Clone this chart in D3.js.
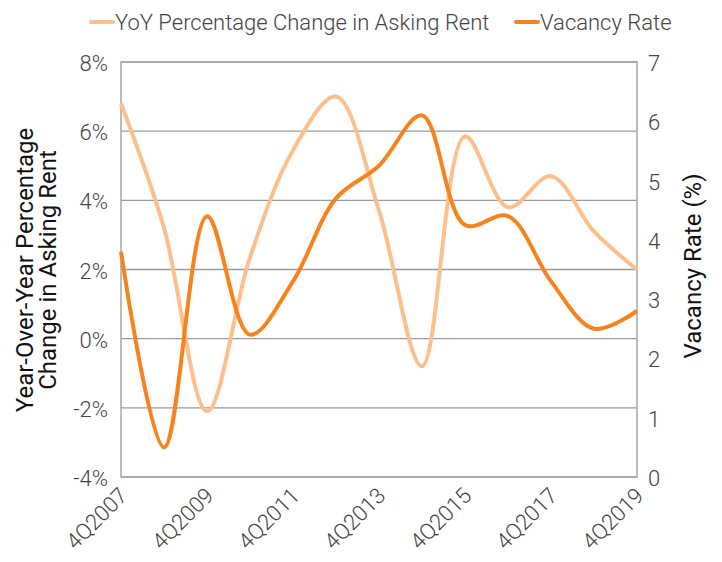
<!DOCTYPE html>
<html>
<head>
<meta charset="utf-8">
<script src="https://cdn.jsdelivr.net/npm/d3@7"></script>
<style>
  body { margin: 0; background: #fff; }
  svg text { font-family: Roboto, "Liberation Sans", sans-serif; }
</style>
</head>
<body>
<svg id="chart" width="722" height="562"></svg>
<script>
// quarters, one point a year
var quarters = ["4Q2007", "4Q2008", "4Q2009", "4Q2010", "4Q2011", "4Q2012", "4Q2013",
  "4Q2014", "4Q2015", "4Q2016", "4Q2017", "4Q2018", "4Q2019"];
var rentChange = [6.8, 3.2, -2.1, 2.35, 5.45, 7.0, 3.7, -0.8, 5.85, 3.8, 4.7, 3.1, 2.0];
var vacancyRate = [3.8, 0.5, 4.4, 2.4, 3.3, 4.7, 5.25, 6.1, 4.25, 4.4, 3.3, 2.5, 2.8];
var leftTicks = [-4, -2, 0, 2, 4, 6, 8];
var rightTicks = [0, 1, 2, 3, 4, 5, 6, 7];
var xLabels = ["4Q2007", "4Q2009", "4Q2011", "4Q2013", "4Q2015", "4Q2017", "4Q2019"];

var lightColor = "#fdbf8b";
var darkColor = "#f5841f";

var margin = { left: 121, right: 85, top: 62, bottom: 85 };
var width = 722 - margin.left - margin.right;
var height = 562 - margin.top - margin.bottom;

var svg = d3.select("#chart");
var g = svg.append("g")
  .attr("transform", "translate(" + margin.left + "," + margin.top + ")");

var x = d3.scalePoint().domain(quarters).range([0, width]);
var yLeft = d3.scaleLinear().domain([-4, 8]).range([height, 0]);
var yRight = d3.scaleLinear().domain([0, 7]).range([height, 0]);

// grid lines
g.selectAll(".grid")
  .data(leftTicks)
  .enter().append("line")
  .attr("class", "grid")
  .attr("x1", 0)
  .attr("x2", width)
  .attr("y1", function (d) { return yLeft(d) })
  .attr("y2", function (d) { return yLeft(d) })
  .attr("stroke", "#9a9a9a")
  .attr("stroke-width", 1.3)

g.append("rect")
  .attr("width", width)
  .attr("height", height)
  .attr("fill", "none")
  .attr("stroke", "#a6a6a6")
  .attr("stroke-width", 1.5)

// left ticks
g.selectAll(".ltick")
  .data(leftTicks)
  .enter().append("text")
  .attr("class", "ltick")
  .attr("x", -13)
  .attr("y", function (d) { return yLeft(d) + 9 })
  .attr("text-anchor", "end")
  .attr("font-size", 22)
  .attr("font-weight", 300)
  .attr("fill", "#444")
  .text(function (d) { return d + "%" })

// right ticks
g.selectAll(".rtick")
  .data(rightTicks)
  .enter().append("text")
  .attr("class", "rtick")
  .attr("x", width + 11)
  .attr("y", function (d) { return yRight(d) + 9 })
  .attr("text-anchor", "start")
  .attr("font-size", 22)
  .attr("font-weight", 300)
  .attr("fill", "#444")
  .text(function (d) { return d })

// x labels
g.selectAll(".xtick")
  .data(xLabels)
  .enter().append("text")
  .attr("class", "xtick")
  .attr("text-anchor", "end")
  .attr("font-size", 22)
  .attr("font-weight", 300)
  .attr("fill", "#444")
  .attr("transform", function (d) {
    return "translate(" + (x(d) + 8) + "," + (height + 20) + ") rotate(-45)"
  })
  .text(function (d) { return d })

// lines
var lineLeft = d3.line()
  .x(function (d, i) { return x(quarters[i]) })
  .y(function (d) { return yLeft(d) })
  .curve(d3.curveCatmullRom.alpha(0.5));

var lineRight = d3.line()
  .x(function (d, i) { return x(quarters[i]) })
  .y(function (d) { return yRight(d) })
  .curve(d3.curveCatmullRom.alpha(0.5));

g.append("path")
  .datum(rentChange)
  .attr("d", lineLeft)
  .attr("fill", "none")
  .attr("stroke", lightColor)
  .attr("stroke-width", 4)

g.append("path")
  .datum(vacancyRate)
  .attr("d", lineRight)
  .attr("fill", "none")
  .attr("stroke", darkColor)
  .attr("stroke-width", 4)

// axis titles
svg.append("text")
  .attr("transform", "translate(33,270) rotate(-90)")
  .attr("text-anchor", "middle")
  .attr("font-size", 24)
  .attr("fill", "#111")
  .text("Year-Over-Year Percentage")

svg.append("text")
  .attr("transform", "translate(56,270) rotate(-90)")
  .attr("text-anchor", "middle")
  .attr("font-size", 24)
  .attr("fill", "#111")
  .text("Change in Asking Rent")

svg.append("text")
  .attr("transform", "translate(701,266) rotate(-90)")
  .attr("text-anchor", "middle")
  .attr("font-size", 24)
  .attr("fill", "#111")
  .text("Vacancy Rate (%)")

// legend
var legendItems = [
  { name: "YoY Percentage Change in Asking Rent", color: lightColor, x: 91 },
  { name: "Vacancy Rate", color: darkColor, x: 516 }
];

var legend = svg.selectAll(".legend")
  .data(legendItems)
  .enter().append("g")
  .attr("class", "legend")
  .attr("transform", function (d) { return "translate(" + d.x + ",22)" })

legend.append("line")
  .attr("x1", 0)
  .attr("x2", 22)
  .attr("stroke", function (d) { return d.color })
  .attr("stroke-width", 4)
  .attr("stroke-linecap", "round")

legend.append("text")
  .attr("x", 24)
  .attr("y", 8)
  .attr("font-size", 22)
  .attr("font-weight", 300)
  .attr("fill", "#444")
  .text(function (d) { return d.name })
</script>
</body>
</html>
